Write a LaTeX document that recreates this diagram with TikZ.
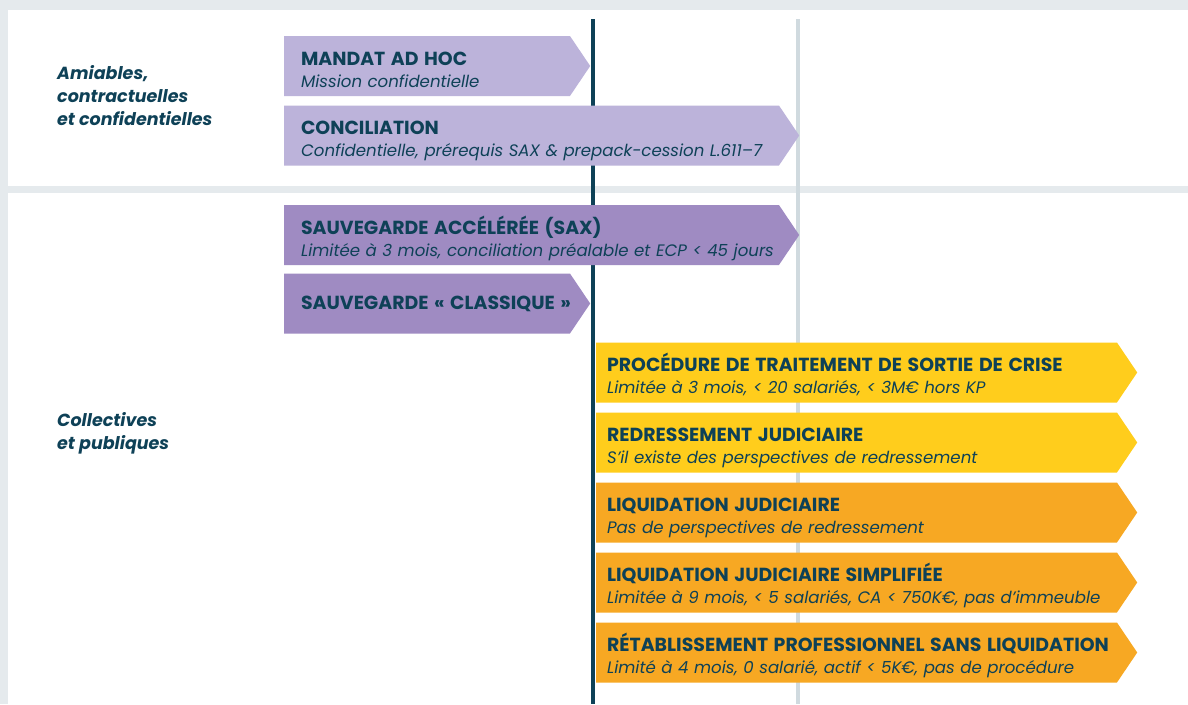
\documentclass[tikz,border=0pt]{standalone}
\usepackage{fontspec}
\setmainfont{Poppins}
\usetikzlibrary{shapes.symbols}
\usetikzlibrary{positioning}
\definecolor{ink}{HTML}{0E4157}
\definecolor{paper}{HTML}{E5EAED}
\definecolor{rail}{HTML}{D0DADF}
\definecolor{lilas}{HTML}{BCB3DA}
\definecolor{mauve}{HTML}{9F8BC2}
\definecolor{jaune}{HTML}{FFCD1C}
\definecolor{orange}{HTML}{F7A823}
\tikzstyle{proc} = [signal, signal to=east, signal pointer angle=112, minimum height=60pt, inner sep=0pt, text=ink, align=left, anchor=west, font=\fontsize{16.6}{22}\selectfont]
\tikzstyle{groupe} = [text=ink, align=left, anchor=west, inner sep=0pt, font=\fontsize{17.5}{23}\selectfont\bfseries\itshape]
\newcommand{\titre}[1]{\mbox{\rule{0pt}{25pt}\fontsize{18.9}{22}\selectfont\bfseries #1}}
\newcommand{\detail}[1]{\mbox{\itshape #1\rule[-5pt]{0pt}{5pt}}}

\begin{document}
\begin{tikzpicture}[x=1pt,y=-1pt]

\fill[paper] (0,0) rectangle (1188,704);
\fill[white] (8,10) rectangle (1188,186);
\fill[white] (8,193) rectangle (1188,704);
\useasboundingbox (0,0) rectangle (1188,704);

\coordinate (haut1) at (593,19);
\coordinate (bas1) at (593,704);
\coordinate (haut2) at (798,19);
\coordinate (bas2) at (798,704);
\draw[line width=4pt, ink] (haut1) -- (bas1);
\draw[line width=4pt, rail] (haut2) -- (bas2);

\node (amiables) [groupe] at (57,96) {Amiables,\\contractuelles\\et confidentielles};
\node (collectives) [groupe] at (57,433) {Collectives\\et publiques};

% procedures amiables
\node (mandat) [proc, fill=lilas, minimum width=306pt, text width=252pt] at (284,66)
  {\titre{MANDAT AD HOC}\\\detail{Mission confidentielle}};
\node (concil) [proc, fill=lilas, minimum width=515pt, text width=461pt] at (284,135.5)
  {\titre{CONCILIATION}\\\detail{Confidentielle, prérequis SAX \& prepack-cession L.611–7}};

% procedures collectives
\node (sax) [proc, fill=mauve, minimum width=515pt, text width=461pt] at (284,235)
  {\titre{SAUVEGARDE ACCÉLÉRÉE (SAX)}\\\detail{Limitée à 3 mois, conciliation préalable et ECP < 45 jours}};
\node (classique) [proc, fill=mauve, minimum width=306pt, text width=252pt] at (284,303.5)
  {\mbox{\fontsize{18.9}{22}\selectfont\bfseries SAUVEGARDE « CLASSIQUE »}};

\node (ptsc) [proc, fill=jaune, minimum width=541pt, text width=499pt] at (596,372.5)
  {\titre{PROCÉDURE DE TRAITEMENT DE SORTIE DE CRISE}\\\detail{Limitée à 3 mois, < 20 salariés, < 3M€ hors KP}};
\node (rj) [proc, fill=jaune, minimum width=541pt, text width=499pt] at (596,442.5)
  {\titre{REDRESSEMENT JUDICIAIRE}\\\detail{S’il existe des perspectives de redressement}};
\node (lj) [proc, fill=orange, minimum width=541pt, text width=499pt] at (596,512.5)
  {\titre{LIQUIDATION JUDICIAIRE}\\\detail{Pas de perspectives de redressement}};
\node (ljs) [proc, fill=orange, minimum width=541pt, text width=499pt] at (596,582.5)
  {\titre{LIQUIDATION JUDICIAIRE SIMPLIFIÉE}\\\detail{Limitée à 9 mois, < 5 salariés, CA < 750K€, pas d’immeuble}};
\node (rpsl) [proc, fill=orange, minimum width=541pt, text width=499pt] at (596,652.5)
  {\titre{RÉTABLISSEMENT PROFESSIONNEL SANS LIQUIDATION}\\\detail{Limité à 4 mois, 0 salarié, actif < 5K€, pas de procédure}};

\end{tikzpicture}
\end{document}
